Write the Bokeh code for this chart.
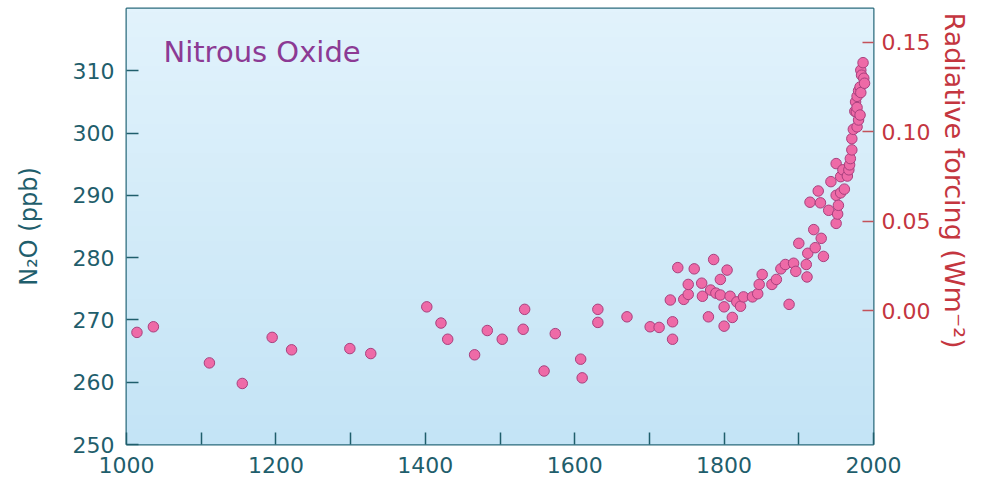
import numpy as np
from bokeh.plotting import figure
from bokeh.models import Range1d, LinearAxis, FixedTicker, Label, Title, ColumnDataSource, NumeralTickFormatter
from bokeh.embed import file_html
from bokeh.resources import INLINE

# Ice-core and atmospheric N2O record, year vs concentration (ppb)
years = [
    1014, 1036, 1111, 1155, 1195, 1221, 1299, 1327, 1402, 1421,
    1430, 1466, 1483, 1503, 1531, 1533, 1559, 1574, 1608, 1610,
    1631, 1631, 1670, 1701, 1713,
    1728, 1731, 1731, 1738, 1746, 1752, 1752, 1760, 1770, 1771,
    1779, 1782, 1786, 1789, 1795, 1795, 1800, 1800, 1804, 1808,
    1811, 1817, 1822, 1826, 1838, 1845, 1847, 1851, 1864, 1870,
    1876, 1882, 1887, 1893, 1896, 1900, 1910, 1911, 1912, 1915,
    1920, 1922, 1926, 1929, 1930, 1933, 1940, 1943, 1950, 1950,
    1950, 1952, 1953, 1956, 1956, 1959, 1961, 1965, 1967, 1968,
    1969, 1971, 1971, 1973, 1975, 1976, 1977, 1978, 1978, 1978,
    1980, 1980, 1982, 1982, 1983, 1983, 1984, 1986, 1987, 1988,
]
n2o_ppb = [
    268.0, 268.9, 263.1, 259.8, 267.2, 265.2, 265.4, 264.6, 272.1, 269.5,
    266.9, 264.4, 268.3, 266.9, 268.5, 271.7, 261.8, 267.8, 263.7, 260.7,
    271.7, 269.6, 270.5, 268.9, 268.8,
    273.2, 269.7, 266.9, 278.4, 273.3, 274.1, 275.7, 278.2, 275.9, 273.8,
    270.5, 274.8, 279.7, 274.3, 274.0, 276.5, 272.1, 269.0, 278.0, 273.8,
    270.4, 272.9, 272.2, 273.7, 273.7, 274.2, 275.7, 277.3, 275.7, 276.5,
    278.2, 278.9, 272.5, 279.1, 277.8, 282.3, 278.9, 276.9, 280.7, 288.9,
    284.5, 281.6, 290.7, 288.8, 283.1, 280.2, 287.6, 292.2, 285.5, 290.0,
    295.1, 287.0, 288.4, 290.4, 293.0, 294.1, 291.0, 293.1, 294.1, 294.9,
    295.9, 297.3, 299.1, 300.6, 303.5, 305.0, 303.4, 301.0, 304.1, 305.9,
    302.1, 306.8, 302.9, 307.4, 306.5, 310.1, 309.3, 311.3, 308.8, 308.0,
]

year_ticks = [1000, 1200, 1400, 1600, 1800, 2000]
year_minor_ticks = [1100, 1300, 1500, 1700, 1900]
ppb_ticks = [250, 260, 270, 280, 290, 300, 310]
forcing_ticks = [0.00, 0.05, 0.10, 0.15]

X_MIN, X_MAX = 1000, 2000
Y_MIN, Y_MAX = 250, 320


def to_forcing(c):
    # linear conversion of concentration to radiative forcing used for the right scale
    return (c - 271.5) * 0.05 / 14.35


TEAL = "#1f5e6c"
RED = "#c4363f"
FONT = "DejaVu Sans"

p = figure(
    width=986, height=489,
    x_range=Range1d(X_MIN, X_MAX), y_range=Range1d(Y_MIN, Y_MAX),
    output_backend="svg", toolbar_location=None,
    min_border_left=126, min_border_right=113, min_border_top=8, min_border_bottom=45,
)
p.extra_y_ranges = {"forcing": Range1d(to_forcing(Y_MIN), to_forcing(Y_MAX))}

p.xgrid.visible = False
p.ygrid.visible = False
p.background_fill_color = "#d6eef9"
p.border_fill_color = "white"
p.outline_line_color = "#2b6b7c"
p.outline_line_width = 2
p.outline_line_alpha = 1.0

# vertical light-blue gradient behind the data
n_rows = 120
t = np.linspace(0, 1, n_rows)
bottom_rgb = np.array([196, 228, 246])
top_rgb = np.array([226, 243, 252])
rgb = (bottom_rgb[None, :] * (1 - t[:, None]) + top_rgb[None, :] * t[:, None]).astype(np.uint32)
img = np.empty((n_rows, 1), dtype=np.uint32)
view = img.view(dtype=np.uint8).reshape((n_rows, 1, 4))
view[:, 0, 0] = rgb[:, 0]
view[:, 0, 1] = rgb[:, 1]
view[:, 0, 2] = rgb[:, 2]
view[:, 0, 3] = 255
p.image_rgba(image=[img], x=X_MIN, y=Y_MIN, dw=X_MAX - X_MIN, dh=Y_MAX - Y_MIN)

src = ColumnDataSource(data=dict(year=years, ppb=n2o_ppb))
p.scatter("year", "ppb", source=src, size=10.5, fill_color="#ee6aa7",
          line_color="#a8407e", line_width=1)

# bottom axis
xa = p.xaxis[0]
xa.ticker = FixedTicker(ticks=year_ticks, minor_ticks=year_minor_ticks)
xa.axis_line_color = None
xa.major_tick_in = 12
xa.major_tick_out = 0
xa.minor_tick_in = 12
xa.minor_tick_out = 0
xa.major_tick_line_color = TEAL
xa.minor_tick_line_color = TEAL
xa.major_tick_line_width = 1.5
xa.minor_tick_line_width = 1.5
xa.major_label_text_color = TEAL
xa.major_label_text_font = FONT
xa.major_label_text_font_size = "22px"
xa.major_label_standoff = 12

# left axis
ya = p.yaxis[0]
ya.ticker = FixedTicker(ticks=ppb_ticks)
ya.minor_tick_line_color = None
ya.axis_line_color = None
ya.major_tick_in = 12
ya.major_tick_out = 0
ya.major_tick_line_color = TEAL
ya.major_tick_line_width = 1.5
ya.major_label_text_color = TEAL
ya.major_label_text_font = FONT
ya.major_label_text_font_size = "22px"
ya.major_label_standoff = 12
ya.axis_label = "N\u2082O (ppb)"
ya.axis_label_text_color = TEAL
ya.axis_label_text_font = FONT
ya.axis_label_text_font_size = "24px"
ya.axis_label_text_font_style = "normal"
ya.axis_label_standoff = 27

# right axis: radiative forcing
ra = LinearAxis(y_range_name="forcing")
ra.ticker = FixedTicker(ticks=forcing_ticks)
ra.formatter = NumeralTickFormatter(format="0.00")
ra.minor_tick_line_color = None
ra.axis_line_color = None
ra.major_tick_in = 11
ra.major_tick_out = 0
ra.major_tick_line_color = "#c4525a"
ra.major_tick_line_width = 1.5
ra.major_label_text_color = RED
ra.major_label_text_font = FONT
ra.major_label_text_font_size = "22px"
ra.major_label_standoff = 8
p.add_layout(ra, "right")

# right-hand axis title, anchored near the top of the frame
p.add_layout(Title(text="Radiative forcing (Wm\u207b\u00b2)", align="left", offset=4,
                   text_color=RED, text_font=FONT, text_font_size="27px",
                   text_font_style="normal", standoff=11), "right")

p.add_layout(Label(x=1049.5, y=313.0, text="Nitrous Oxide", text_color="#8c3a94",
                   text_font=FONT, text_font_size="29px", text_baseline="middle",
                   text_align="left"))

open("out.html", "w").write(file_html(p, INLINE))
